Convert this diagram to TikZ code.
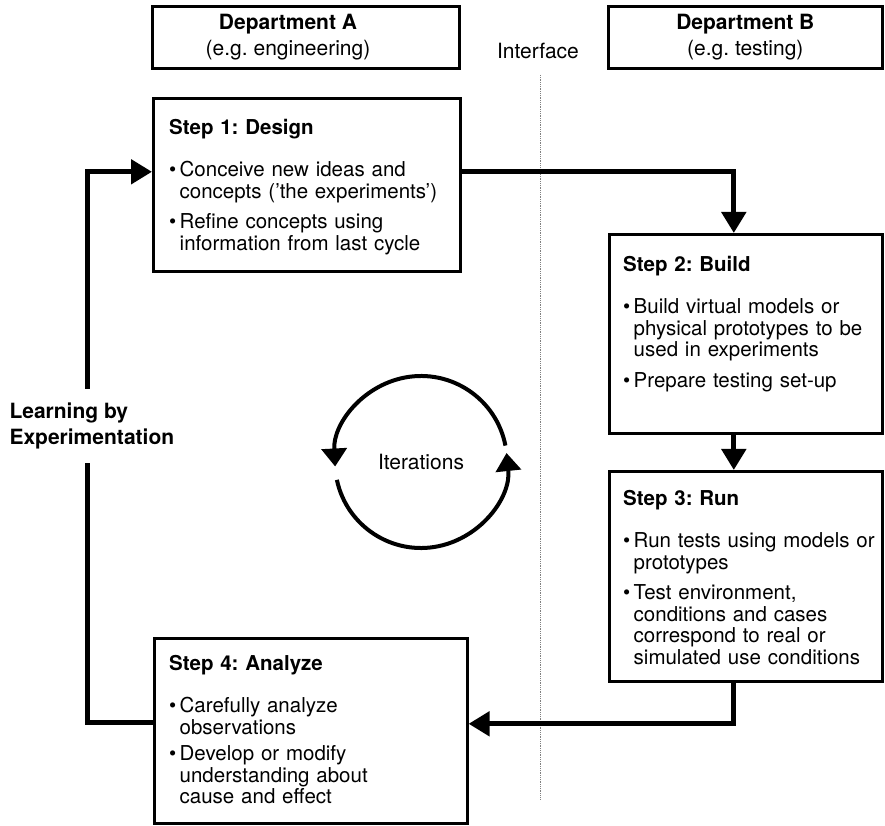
\documentclass[tikz,border=0pt]{standalone}
\usepackage{fontspec}
\setmainfont{TeX Gyre Heros}
\usetikzlibrary{arrows.meta,positioning}

\frenchspacing
\newcommand{\bitem}[1]{\par\vspace{10pt}\noindent\makebox[10.5pt][l]{\textbullet}\parbox[t]{270pt}{\raggedright #1}}

\begin{document}
\begin{tikzpicture}[x=1pt,y=1pt,
    box/.style={draw,line width=2.6pt,anchor=north west,inner sep=0pt},
    info/.style={anchor=north west,inner sep=0pt,text width=300pt,align=left,font=\fontsize{20.5}{21.5}\selectfont},
    head/.style={align=center,font=\fontsize{21}{26}\selectfont},
    flow/.style={line width=5pt,-{Triangle[length=21pt,width=24pt]}},
    turn/.style={line width=4pt,-{Triangle[length=18pt,width=25pt]}}]
    \useasboundingbox (0,0) rectangle (885,825);

    % departments
    \node[box,minimum width=307pt,minimum height=62pt] (deptA) at (151,820) {};
    \node[box,minimum width=274pt,minimum height=62pt] (deptB) at (607,820) {};
    \node[head] (deptAtxt) at (288,788) {\textbf{Department A}\\(e.g. engineering)};
    \node[head] (deptBtxt) at (deptB.center) {\textbf{Department B}\\(e.g. testing)};
    \node[font=\fontsize{21}{21.5}\selectfont] (iface) at (538,774) {Interface};
    \draw[densely dotted,gray,line width=0.8pt] (540,750) -- (540,26);

    % steps
    \node[box,minimum width=307pt,minimum height=173pt] (design) at (152,728) {};
    \node[box,minimum width=273pt,minimum height=199pt] (build) at (608,592) {};
    \node[box,minimum width=273pt,minimum height=210pt] (run) at (608,355) {};
    \node[box,minimum width=313pt,minimum height=185pt] (analyze) at (153,188) {};

    \node[info] (designtxt) at ([xshift=17pt,yshift=-22pt]design.north west)
        {\textbf{Step 1: Design}\par\vspace{11pt}
         \bitem{Conceive new ideas and\\concepts ('the experiments')}
         \bitem{Refine concepts using\\information from last cycle}};
    \node[info] (buildtxt) at ([xshift=15pt,yshift=-23pt]build.north west)
        {\textbf{Step 2: Build}\par\vspace{11pt}
         \bitem{Build virtual models or\\physical prototypes to be\\used in experiments}
         \bitem{Prepare testing set-up}};
    \node[info] (runtxt) at ([xshift=15pt,yshift=-20pt]run.north west)
        {\textbf{Step 3: Run}\par\vspace{11pt}
         \bitem{Run tests using models or\\prototypes}
         \bitem{Test environment,\\conditions and cases\\correspond to real or\\simulated use conditions}};
    \node[info] (analyzetxt) at ([xshift=16pt,yshift=-18pt]analyze.north west)
        {\textbf{Step 4: Analyze}\par\vspace{11pt}
         \bitem{Carefully analyze\\observations}
         \bitem{Develop or modify\\understanding about\\cause and effect}};

    % cycle
    \node[anchor=west,align=left,font=\bfseries\fontsize{21}{26}\selectfont] (learn) at (6,399) {Learning by\\Experimentation};
    \coordinate (gaplo) at (87,362);
    \coordinate (gaphi) at (87,436);

    \draw[flow] ([yshift=13pt]design.east) -| ([xshift=-12pt]build.north);
    \draw[flow] ([xshift=-12pt]build.south) -- ([xshift=-12pt]run.north);
    \draw[flow] ([xshift=-12pt]run.south) |- ([yshift=7pt]analyze.east);
    \draw[line width=5pt] ([yshift=8pt]analyze.west) -| (gaplo);
    \draw[flow] (gaphi) |- ([yshift=13pt]design.west);

    % iterations
    \node[font=\fontsize{21}{21.5}\selectfont] (iter) at (421,363) {Iterations};
    \draw[turn] ([shift={(11:86)}]iter.center) arc[start angle=11,end angle=183,radius=86];
    \draw[turn] ([shift={(192:86)}]iter.center) arc[start angle=192,end angle=366,radius=86];
\end{tikzpicture}
\end{document}
